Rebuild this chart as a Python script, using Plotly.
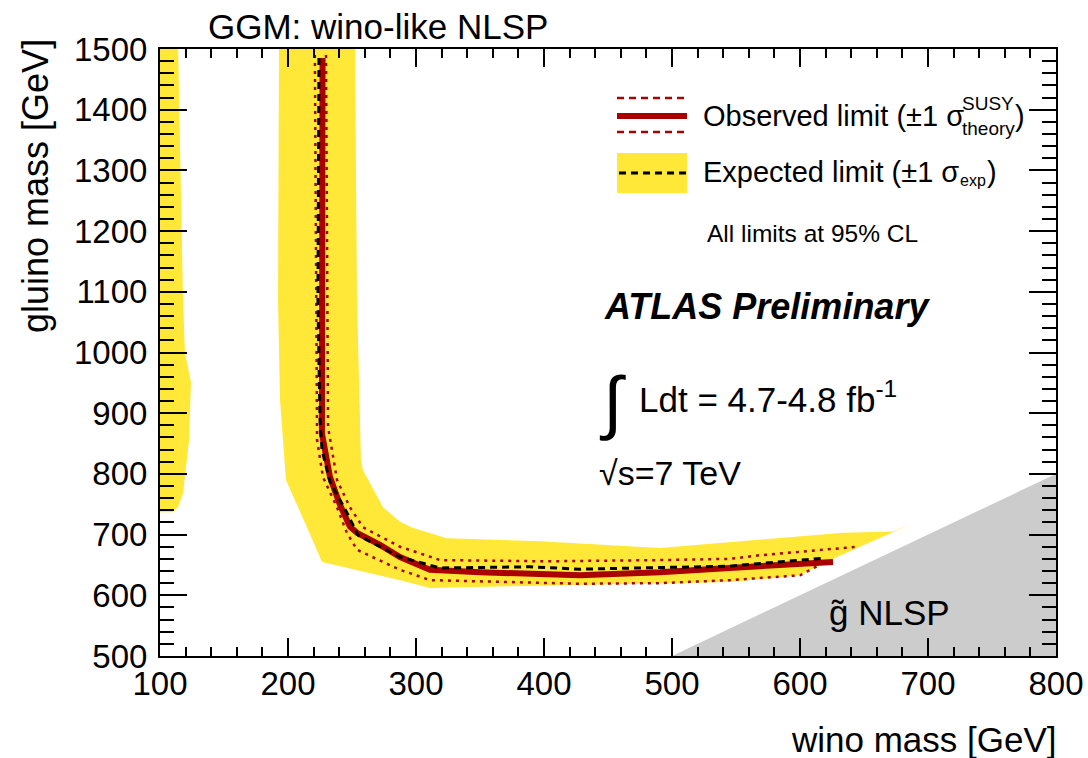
import plotly.graph_objects as go

# ---------------- data (GeV) ----------------
# observed limit
obs_x = [227, 226.5, 226, 226.5, 232.8, 240.6, 248.4, 253.9, 271.9, 287.5, 310.9, 350, 428, 490.6, 545, 625.8]
obs_y = [1485, 1300, 1086, 867, 795, 749, 713, 703, 683, 663, 642, 638, 633, 638, 645, 655]
# observed +/- 1 sigma theory
thu_x = [229.7, 230.5, 231.3, 238.3, 248.4, 258.6, 287.5, 318.8, 402.3, 490.6, 545.3, 568.8, 645.3]
thu_y = [1490, 1086, 877, 790, 745, 712, 680, 658, 656, 658, 660, 666, 680]
thl_x = [221, 221.9, 222.7, 227.3, 238.3, 246, 253.9, 287.5, 311, 428, 490.6, 545.3, 600, 618]
thl_y = [1490, 1086, 856, 795, 745, 703, 675, 642, 625, 619, 620, 625, 633, 653]
# expected limit
exp_x = [224.2, 223.4, 225, 226.6, 232.8, 246, 254.7, 287.5, 318.8, 389, 428, 545, 618]
exp_y = [1485, 1086, 889, 839, 787, 736, 699, 663, 645, 647, 643, 648, 661]
# expected +/- 1 sigma band (closed polygon)
band_x = [193, 192.2, 193.75, 198.4, 214.8, 226.6, 287.5, 311, 375.8, 545.3, 600, 615.6, 628.9,
          687.5, 672.7, 633.6, 490.6, 396.9, 324.2, 297.7, 287.5, 274.2, 258.6, 257, 253.9, 252.3]
band_y = [1520, 1086, 922, 790, 712, 655, 625, 612, 615, 622, 633, 650, 663,
          718, 705, 703, 678, 689, 694, 711, 721, 745, 806, 823, 1086, 1520]
# second expected band island at low wino mass
lb_x = [95, 114, 118, 119.5, 124.2, 122.7, 118, 114, 110, 95]
lb_y = [1520, 1520, 1086, 999, 951, 856, 768, 745, 737, 737]
# gluino NLSP region (m_gluino < m_wino)
nlsp_x = [500, 800, 800]
nlsp_y = [500, 800, 500]

x_ticks = [100, 200, 300, 400, 500, 600, 700, 800]
y_ticks = [500, 600, 700, 800, 900, 1000, 1100, 1200, 1300, 1400, 1500]

RED = "#aa0000"
YEL = "#ffe838"
GRAY = "#cccccc"
FONT = "Liberation Sans"

fig = go.Figure()
fig.add_trace(go.Scatter(x=nlsp_x, y=nlsp_y, fill="toself", fillcolor=GRAY, mode="lines",
                         line=dict(width=0, color=GRAY), hoverinfo="skip"))
fig.add_trace(go.Scatter(x=lb_x, y=lb_y, fill="toself", fillcolor=YEL, mode="lines",
                         line=dict(width=0, color=YEL), hoverinfo="skip"))
fig.add_trace(go.Scatter(x=band_x, y=band_y, fill="toself", fillcolor=YEL, mode="lines",
                         line=dict(width=0, color=YEL), hoverinfo="skip"))
fig.add_trace(go.Scatter(x=thu_x, y=thu_y, mode="lines", line=dict(color=RED, width=2.5, dash="3px,5px")))
fig.add_trace(go.Scatter(x=thl_x, y=thl_y, mode="lines", line=dict(color=RED, width=2.5, dash="3px,5px")))
fig.add_trace(go.Scatter(x=obs_x, y=obs_y, mode="lines", line=dict(color=RED, width=6)))
fig.add_trace(go.Scatter(x=exp_x, y=exp_y, mode="lines", line=dict(color="black", width=3, dash="7px,5px")))

L, R, T, B = 160, 1056, 49, 656
W, H = R - L, B - T
def px(xp):
    return (xp - L) / W
def py(yp):
    return (B - yp) / H

shapes = [
    dict(type="line", xref="paper", yref="paper", x0=px(617), x1=px(687), y0=py(98), y1=py(98),
         line=dict(color=RED, width=2.5, dash="7px,5px")),
    dict(type="line", xref="paper", yref="paper", x0=px(617), x1=px(687), y0=py(132), y1=py(132),
         line=dict(color=RED, width=2.5, dash="7px,5px")),
    dict(type="line", xref="paper", yref="paper", x0=px(617), x1=px(687), y0=py(116), y1=py(116),
         line=dict(color=RED, width=6)),
    dict(type="rect", xref="paper", yref="paper", x0=px(617), x1=px(687), y0=py(193), y1=py(153),
         fillcolor=YEL, line=dict(width=0)),
    dict(type="line", xref="paper", yref="paper", x0=px(619), x1=px(687), y0=py(173), y1=py(173),
         line=dict(color="black", width=3, dash="7px,5px")),
]

def ann(text, xp, yp, size, xanchor="left", yanchor="middle", **kw):
    return dict(text=text, xref="paper", yref="paper", x=px(xp), y=py(yp), xanchor=xanchor,
                yanchor=yanchor, showarrow=False, font=dict(family=FONT, size=size, color="black"), **kw)

annotations = [
    ann("GGM: wino-like NLSP", 206, 27, 35),
    ann("Observed limit (±1 σ", 701, 116, 29),
    ann("SUSY", 960, 103, 19),
    ann("theory", 960, 128, 19),
    ann(")", 1013, 116, 29),
    ann("Expected limit (±1 σ", 701, 172, 29),
    ann("exp", 958, 181, 16),
    ann(")", 985, 172, 29),
    ann("All limits at 95% CL", 705, 233, 24.5),
    ann("<b><i>ATLAS Preliminary</i></b>", 602, 306, 36),
    ann("∫", 612, 402, 70, xanchor="center"),
    ann("Ldt = 4.7-4.8 fb<sup>-1</sup>", 637, 397, 35),
    ann("√s=7 TeV", 597, 473, 34),
    ann("g̃ NLSP", 827, 612, 35),
    ann("wino mass [GeV]", 1059, 739, 35, xanchor="right"),
    ann("gluino mass [GeV]", 36, 37, 36, xanchor="center", yanchor="top", textangle=-90),
]

axis_common = dict(showgrid=False, zeroline=False, showline=True, linecolor="black", linewidth=2,
                   mirror="ticks", ticks="inside", tickcolor="black", tickwidth=1.5, automargin=False,
                   tickfont=dict(family=FONT, size=33, color="black"))

fig.update_layout(
    width=1088, height=758,
    margin=dict(l=L, r=1088 - R, t=T, b=758 - B, autoexpand=False),
    paper_bgcolor="white", plot_bgcolor="white",
    showlegend=False,
    xaxis=dict(range=[100, 800], tickvals=x_ticks, ticklen=18, ticklabelstandoff=-3,
               minor=dict(ticks="inside", ticklen=9, dtick=20, tick0=100, tickcolor="black", tickwidth=1.5),
               **axis_common),
    yaxis=dict(range=[500, 1500], tickvals=y_ticks, ticklen=27, ticklabelstandoff=4,
               minor=dict(ticks="inside", ticklen=14, dtick=20, tick0=500, tickcolor="black", tickwidth=1.5),
               **axis_common),
    shapes=shapes,
    annotations=annotations,
)

fig.write_html("out.html")
